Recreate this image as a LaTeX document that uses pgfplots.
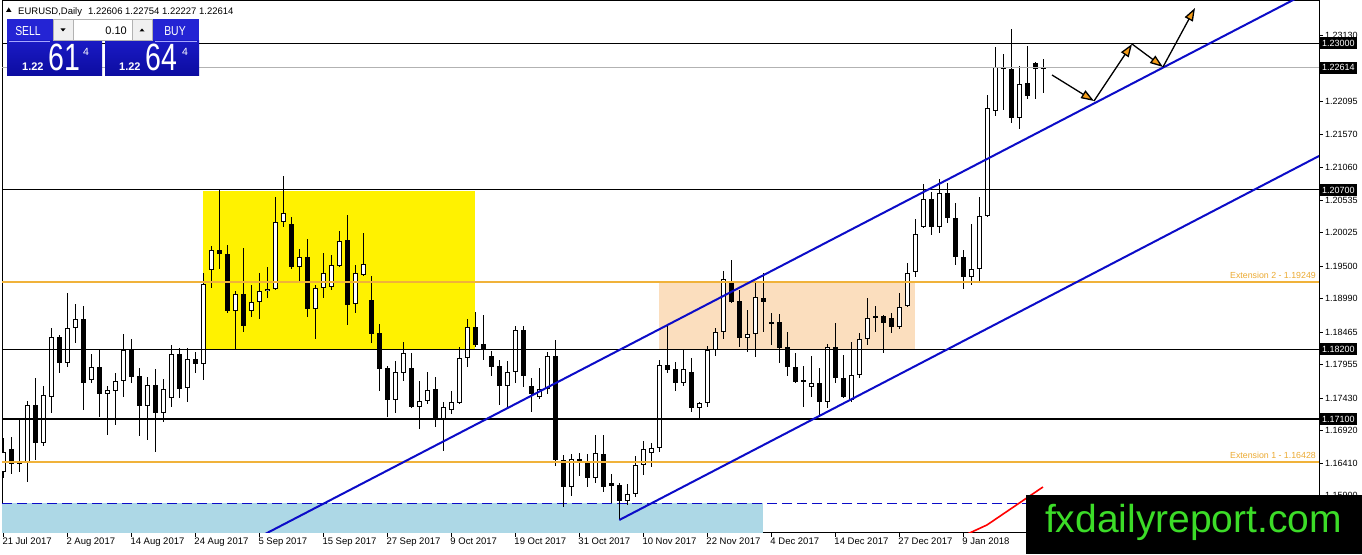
\documentclass[border=0pt]{standalone}
\usepackage{fontspec}
\setmainfont{Liberation Sans}
\usepackage{graphicx}
\usepackage{pgfplots}
\usepackage{pgfplotstable}
\pgfplotsset{compat=1.18}
\usetikzlibrary{arrows.meta}
\definecolor{chblue}{RGB}{12,12,200}
\definecolor{orL}{RGB}{240,178,58}
\definecolor{extor}{RGB}{236,170,50}
\definecolor{peach}{RGB}{251,222,190}
\definecolor{lblue}{RGB}{173,216,230}
\definecolor{logog}{RGB}{60,220,40}
\definecolor{arrowor}{RGB}{243,156,24}
\definecolor{ptop}{RGB}{36,36,212}
\definecolor{pbot}{RGB}{12,12,160}
\definecolor{pmid}{RGB}{26,26,196}

\pgfplotstableread{
i o h l c
0 1.16273 1.16807 1.16179 1.16587
1 1.16634 1.16822 1.16242 1.16399
2 1.16399 1.17089 1.16273 1.16430
3 1.16430 1.17387 1.16116 1.17325
4 1.17325 1.17748 1.16462 1.16728
5 1.16728 1.17623 1.16681 1.17481
6 1.17450 1.18533 1.17199 1.18392
7 1.18392 1.18423 1.17827 1.17984
8 1.17984 1.19082 1.17921 1.18533
9 1.18533 1.18909 1.18297 1.18674
10 1.18674 1.18878 1.17246 1.17670
11 1.17717 1.18125 1.17670 1.17921
12 1.17921 1.18203 1.17136 1.17497
13 1.17497 1.17623 1.16854 1.17560
14 1.17544 1.17827 1.17011 1.17701
15 1.17701 1.18439 1.17450 1.18188
16 1.18203 1.18360 1.17670 1.17764
17 1.17780 1.17905 1.16838 1.17309
18 1.17309 1.17764 1.16775 1.17638
19 1.17638 1.17889 1.16587 1.17199
20 1.17199 1.17733 1.17058 1.17576
21 1.17434 1.18266 1.17293 1.18125
22 1.18125 1.18219 1.17434 1.17576
23 1.17591 1.18219 1.17372 1.18046
24 1.18046 1.18156 1.17827 1.17968
25 1.17968 1.19396 1.17717 1.19223
26 1.19443 1.19819 1.19160 1.19757
27 1.19757 1.20698 1.19459 1.19694
28 1.19694 1.19835 1.18768 1.18800
29 1.18800 1.19113 1.18188 1.19066
30 1.19066 1.19788 1.18470 1.18564
31 1.18800 1.19207 1.18705 1.18941
32 1.18941 1.19396 1.18674 1.19113
33 1.19113 1.19490 1.19004 1.19145
34 1.19145 1.20588 1.19130 1.20196
35 1.20196 1.20918 1.20118 1.20337
36 1.20165 1.20275 1.19459 1.19490
37 1.19490 1.19772 1.19270 1.19647
38 1.19647 1.19929 1.18705 1.18831
39 1.18831 1.19207 1.18360 1.19160
40 1.19160 1.19710 1.19004 1.19396
41 1.19176 1.19678 1.19129 1.19521
42 1.19506 1.20055 1.19490 1.19898
43 1.19914 1.20306 1.18580 1.18894
44 1.18909 1.19521 1.18768 1.19396
45 1.19364 1.20023 1.19349 1.19537
46 1.18972 1.19349 1.18297 1.18439
47 1.18454 1.18596 1.17544 1.17889
48 1.17905 1.17937 1.17136 1.17403
49 1.17403 1.18015 1.17199 1.17842
50 1.17827 1.18313 1.17701 1.18140
51 1.17905 1.18140 1.17278 1.17293
52 1.17293 1.17701 1.16948 1.17387
53 1.17387 1.17842 1.17340 1.17560
54 1.17576 1.17764 1.16979 1.17089
55 1.17089 1.17372 1.16603 1.17293
56 1.17246 1.17544 1.17183 1.17372
57 1.17356 1.18235 1.17340 1.18062
58 1.18062 1.18674 1.17921 1.18549
59 1.18549 1.18784 1.18235 1.18266
60 1.18282 1.18737 1.18031 1.18203
61 1.18093 1.18172 1.17780 1.17921
62 1.17937 1.18031 1.17325 1.17623
63 1.17623 1.18015 1.17293 1.17842
64 1.17842 1.18564 1.17670 1.18501
65 1.18501 1.18564 1.17607 1.17780
66 1.17623 1.17748 1.17215 1.17497
67 1.17450 1.17905 1.17419 1.17576
68 1.17576 1.18156 1.17497 1.18093
69 1.18093 1.18344 1.16367 1.16462
70 1.16462 1.16540 1.15724 1.16038
71 1.16038 1.16556 1.15897 1.16477
72 1.16477 1.16571 1.16210 1.16446
73 1.16414 1.16556 1.16038 1.16179
74 1.16179 1.16854 1.16101 1.16571
75 1.16556 1.16854 1.15959 1.16038
76 1.16101 1.16242 1.15787 1.16054
77 1.16069 1.16101 1.15520 1.15818
78 1.15818 1.16085 1.15755 1.15928
79 1.15928 1.16524 1.15881 1.16383
80 1.16383 1.16760 1.16226 1.16634
81 1.16571 1.16728 1.16352 1.16650
82 1.16650 1.18031 1.16587 1.17952
83 1.17952 1.18564 1.17827 1.17874
84 1.17889 1.17999 1.17544 1.17670
85 1.17670 1.18188 1.17623 1.17889
86 1.17842 1.18062 1.17215 1.17278
87 1.17278 1.17372 1.17089 1.17356
88 1.17356 1.18250 1.17293 1.18188
89 1.18188 1.18533 1.18093 1.18470
90 1.18470 1.19427 1.18360 1.19302
91 1.19239 1.19600 1.18925 1.18941
92 1.18956 1.19129 1.18235 1.18376
93 1.18376 1.18815 1.18156 1.18439
94 1.18439 1.19239 1.18078 1.19019
95 1.19004 1.19396 1.18470 1.18941
96 1.18627 1.18768 1.18266 1.18596
97 1.18627 1.18753 1.17984 1.18219
98 1.18235 1.18470 1.17780 1.17921
99 1.17921 1.18140 1.17670 1.17685
100 1.17717 1.17937 1.17293 1.17701
101 1.17607 1.18093 1.17450 1.17670
102 1.17670 1.17905 1.17136 1.17372
103 1.17372 1.18282 1.17278 1.18235
104 1.18235 1.18611 1.17670 1.17748
105 1.17748 1.18109 1.17434 1.17450
106 1.17403 1.18313 1.17380 1.17795
107 1.17795 1.18454 1.17748 1.18360
108 1.18360 1.19004 1.18266 1.18690
109 1.18690 1.18878 1.18470 1.18721
110 1.18721 1.18737 1.18140 1.18611
111 1.18690 1.18768 1.18454 1.18549
112 1.18549 1.19082 1.18517 1.18862
113 1.18878 1.19553 1.18862 1.19396
114 1.19411 1.20243 1.19333 1.20008
115 1.20118 1.20792 1.20102 1.20557
116 1.20557 1.20667 1.19992 1.20118
117 1.20118 1.20871 1.20023 1.20651
118 1.20651 1.20808 1.20180 1.20259
119 1.20259 1.20494 1.19521 1.19647
120 1.19647 1.19757 1.19145 1.19333
121 1.19333 1.20165 1.19207 1.19459
122 1.19459 1.20588 1.19270 1.20290
123 1.20290 1.22189 1.20275 1.21985
124 1.21938 1.22942 1.21859 1.22628
125 1.22628 1.22832 1.21953 1.22597
126 1.22597 1.23224 1.21749 1.21828
127 1.21828 1.22644 1.21655 1.22361
128 1.22377 1.22958 1.22126 1.22173
129 1.22691 1.22707 1.22126 1.22597
130 1.22606 1.22754 1.22227 1.22614
}\candles

\begin{document}
\begin{tikzpicture}
\path[use as bounding box] (0pt,0pt) rectangle (1362pt,554pt);
\fill[white] (0pt,0pt) rectangle (1362pt,554pt);
\begin{axis}[
  at={(2pt,21.5pt)}, anchor=south west, scale only axis,
  width=1317pt, height=532pt,
  xmin=-0.1625, xmax=164.4625, ymin=1.153239, ymax=1.236716,
  axis line style={black, line width=0.8pt},
  tick align=outside, major tick length=4pt,
  tick style={black, line width=0.8pt},
  xtick pos=left, ytick pos=right, yticklabel pos=right,
  xtick={0,8,...,120},
  xticklabels={21 Jul 2017,2 Aug 2017,14 Aug 2017,24 Aug 2017,5 Sep 2017,15 Sep 2017,27 Sep 2017,9 Oct 2017,19 Oct 2017,31 Oct 2017,10 Nov 2017,22 Nov 2017,4 Dec 2017,14 Dec 2017,27 Dec 2017,9 Jan 2018},
  ytick={1.15900,1.16410,1.16920,1.17430,1.17955,1.18465,1.18990,1.19500,1.20025,1.20535,1.21060,1.21570,1.22095,1.23130},
  yticklabels={1.15900,1.16410,1.16920,1.17430,1.17955,1.18465,1.18990,1.19500,1.20025,1.20535,1.21060,1.21570,1.22095,1.23130},
  xticklabel style={anchor=north west, inner sep=0pt, xshift=-1pt, yshift=-1pt, font=\fontsize{9.5}{10}\selectfont},
  yticklabel style={anchor=west, inner sep=0pt, xshift=2pt, font=\fontsize{9}{10}\selectfont},
  clip=true,
]
% background zones
\addplot[fill=lblue, draw=none, forget plot] coordinates {(-2,1.15787) (95,1.15787) (95,1.14) (-2,1.14)} -- cycle;
\addplot[fill=yellow, draw=none, forget plot] coordinates {(25,1.20682) (59,1.20682) (59,1.18188) (25,1.18188)} -- cycle;
\addplot[fill=peach, draw=none, forget plot] coordinates {(82,1.19239) (114,1.19239) (114,1.18200) (82,1.18200)} -- cycle;
\addplot[chblue, line width=0.8pt, dash pattern=on 10pt off 5pt, forget plot] coordinates {(-2,1.15787) (170,1.15787)};
% wicks
\addplot[draw=none, mark=none, forget plot,
  error bars/.cd, y dir=both, y explicit, error mark=none,
  error bar style={draw=black, line width=1pt}]
  table[x=i, y expr={(\thisrow{h}+\thisrow{l})/2}, y error expr={(\thisrow{h}-\thisrow{l})/2}] {\candles};
% bodies
\addplot[draw=none, mark=none, forget plot,
  error bars/.cd, y dir=both, y explicit, error mark=none,
  error bar style={draw=black, line width=5pt}]
  table[x=i, y expr={(\thisrow{o}+\thisrow{c})/2}, y error expr={max(abs(\thisrow{c}-\thisrow{o})/2,0.00008)}] {\candles};
\addplot[draw=none, mark=none, forget plot,
  restrict expr to domain={\thisrow{c}-\thisrow{o}}{0.00001:1},
  error bars/.cd, y dir=both, y explicit, error mark=none,
  error bar style={draw=white, line width=3pt}]
  table[x=i, y expr={(\thisrow{o}+\thisrow{c})/2}, y error expr={max(abs(\thisrow{c}-\thisrow{o})/2-0.000157,0)}] {\candles};
% horizontal levels
\addplot[black, line width=0.8pt, forget plot] coordinates {(-2,1.23000) (170,1.23000)};
\addplot[gray!60, line width=0.8pt, forget plot] coordinates {(-2,1.22614) (170,1.22614)};
\addplot[black, line width=0.8pt, forget plot] coordinates {(-2,1.20700) (170,1.20700)};
\addplot[black, line width=1.2pt, forget plot] coordinates {(-2,1.18200) (170,1.18200)};
\addplot[black, line width=2pt, forget plot] coordinates {(-2,1.17100) (170,1.17100)};
\addplot[orL, line width=2pt, forget plot] coordinates {(-2,1.19249) (170,1.19249)};
\addplot[orL, line width=2pt, forget plot] coordinates {(-2,1.16428) (170,1.16428)};
% channel
\addplot[chblue, line width=2pt, forget plot] coordinates {(30,1.151225) (165,1.23925)};
\addplot[chblue, line width=2pt, forget plot] coordinates {(77,1.15520) (165,1.212664)};
% red line
\addplot[red, line width=1.6pt, forget plot] coordinates {(120.5,1.15300) (122.96,1.15442) (129.96,1.16038)};
% arrows
\addplot[black, line width=1.3pt, forget plot, -{Triangle[length=13pt,width=9pt,fill=arrowor]}] coordinates {(131.09,1.225026) (136.34,1.220946)};
\addplot[black, line width=1.3pt, forget plot, -{Triangle[length=13pt,width=9pt,fill=arrowor]}] coordinates {(136.34,1.220946) (141.09,1.229890)};
\addplot[black, line width=1.3pt, forget plot, -{Triangle[length=13pt,width=9pt,fill=arrowor]}] coordinates {(141.09,1.229890) (144.96,1.226281)};
\addplot[black, line width=1.3pt, forget plot, -{Triangle[length=13pt,width=9pt,fill=arrowor]}] coordinates {(144.96,1.226281) (148.96,1.235539)};
\end{axis}

\begin{scope}[x=1pt, y=-1pt, yshift=554pt]
% level boxes on the price scale
\foreach \yy/\tt in {43.3/1.23000, 67.9/1.22614, 190/1.20700, 349.2/1.18200, 419.3/1.17100}{
  \node[fill=black, text=white, anchor=west, inner xsep=2pt, inner ysep=0pt, minimum height=12pt, font=\fontsize{9}{10}\selectfont] at (1320,\yy) {\tt};
}
% extension labels
\node[anchor=base east, inner sep=0pt, text=extor, font=\fontsize{8.8}{9}\selectfont] at (1316,279) {Extension 2 - 1.19249};
\node[anchor=base east, inner sep=0pt, text=extor, font=\fontsize{8.8}{9}\selectfont] at (1316,459) {Extension 1 - 1.16428};
% header
\fill[black] (6,12) -- (11.5,12) -- (8.75,7.5) -- cycle;
\node[anchor=base west, inner sep=0pt, font=\fontsize{9.5}{10}\selectfont] at (18,15) {EURUSD,Daily};
\node[anchor=base west, inner sep=0pt, font=\fontsize{9.5}{10}\selectfont] at (88,15) {1.22606 1.22754 1.22227 1.22614};
% trade panel
\fill[ptop] (7,19) rectangle (53,41);
\fill[ptop] (152.5,19) rectangle (199,41);
\shade[top color=pmid, bottom color=pbot] (7,41) rectangle (102,76);
\shade[top color=pmid, bottom color=pbot] (105,41) rectangle (199,76);
\draw[blue!35!white, line width=0.8pt] (9,41) -- (50,41);
\draw[blue!35!white, line width=0.8pt] (155,41) -- (197,41);
\filldraw[fill=gray!12, draw=gray!60, line width=0.6pt] (53,19.5) rectangle (73,40.5);
\filldraw[fill=white, draw=gray!60, line width=0.6pt] (73,19.5) rectangle (132,40.5);
\filldraw[fill=gray!12, draw=gray!60, line width=0.6pt] (132,19.5) rectangle (152.5,40.5);
\fill[black] (60.5,28.5) -- (65.5,28.5) -- (63,31.5) -- cycle;
\fill[black] (139.5,31.5) -- (144.5,31.5) -- (142,28.5) -- cycle;
\node[anchor=base east, inner sep=0pt] at (127,34.5) {\fontsize{11}{11}\selectfont 0.10};
\node[anchor=base, inner sep=0pt, text=white] at (28,36) {\scalebox{0.8}[1]{\fontsize{13}{13}\selectfont SELL}};
\node[anchor=base, inner sep=0pt, text=white] at (175,36) {\scalebox{0.8}[1]{\fontsize{13}{13}\selectfont BUY}};
\node[anchor=base west, inner sep=0pt, text=white] at (22,71) {\fontsize{11}{11}\selectfont\bfseries 1.22};
\node[anchor=base west, inner sep=0pt, text=white] at (48,71) {\scalebox{0.75}[1]{\fontsize{38}{38}\selectfont 61}};
\node[anchor=base west, inner sep=0pt, text=white] at (83,55.5) {\fontsize{10.5}{10.5}\selectfont 4};
\node[anchor=base west, inner sep=0pt, text=white] at (119,71) {\fontsize{11}{11}\selectfont\bfseries 1.22};
\node[anchor=base west, inner sep=0pt, text=white] at (145,71) {\scalebox{0.75}[1]{\fontsize{38}{38}\selectfont 64}};
\node[anchor=base west, inner sep=0pt, text=white] at (182,55.5) {\fontsize{10.5}{10.5}\selectfont 4};
% logo
\fill[black] (1026,495) rectangle (1362,554);
\node[anchor=base, inner sep=0pt, text=logog] at (1193.5,533) {\fontsize{39}{39}\selectfont fxdailyreport.com};
\end{scope}
\end{tikzpicture}
\end{document}
